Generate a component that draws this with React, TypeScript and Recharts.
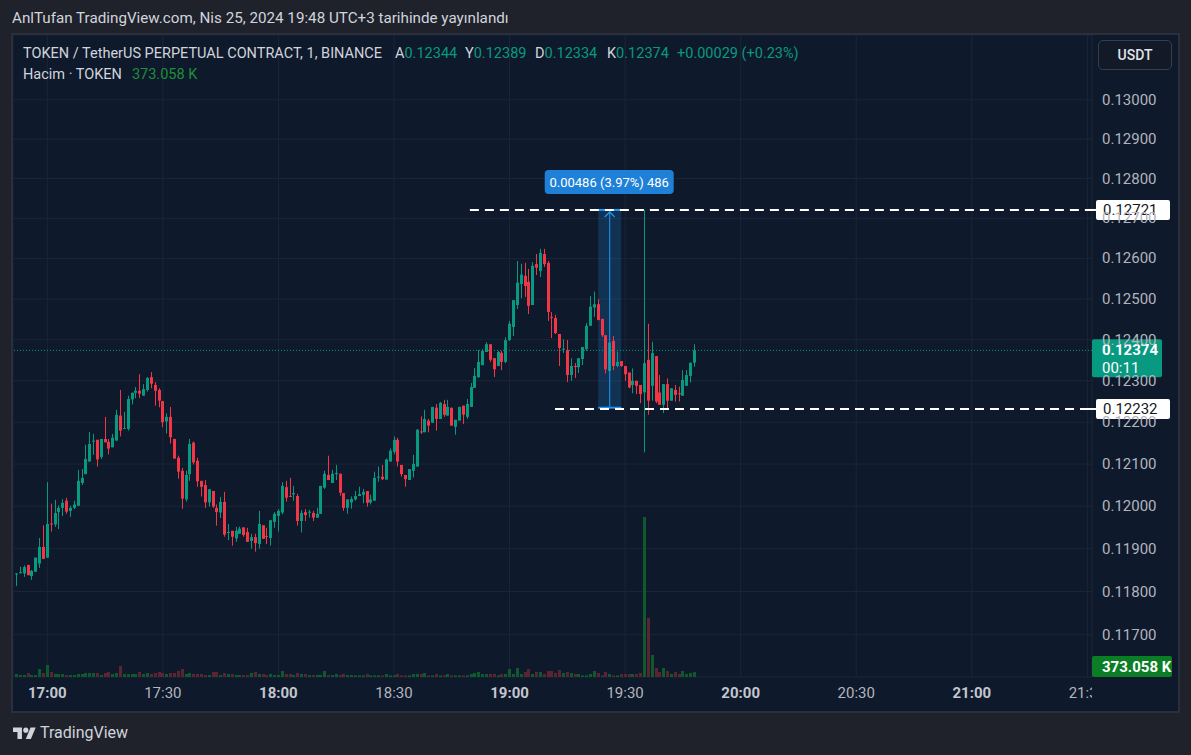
import React from 'react'
import { ComposedChart, Bar, XAxis, YAxis, CartesianGrid, ReferenceLine, ReferenceArea, ReferenceDot } from 'recharts'

// 1 minute candles, first one at 16:52
const firstMinute = 16 * 60 + 52

const opens = [
  0.11840, 0.11844, 0.11842, 0.11862, 0.11836, 0.11846, 0.11865, 0.11904, 0.11879, 0.11959,
  0.11957, 0.11986, 0.11996, 0.12013, 0.11989, 0.11996, 0.12001, 0.12055, 0.12076, 0.12106,
  0.12155, 0.12158, 0.12117, 0.12160, 0.12153, 0.12140, 0.12156, 0.12216, 0.12184, 0.12184,
  0.12255, 0.12271, 0.12276, 0.12264, 0.12278, 0.12309, 0.12290, 0.12278, 0.12251, 0.12202,
  0.12213, 0.12160, 0.12115, 0.12084, 0.12016, 0.12076, 0.12151, 0.12108, 0.12060, 0.12050,
  0.12009, 0.12036, 0.11996, 0.11985, 0.12010, 0.11938, 0.11942, 0.11924, 0.11935, 0.11950,
  0.11939, 0.11918, 0.11927, 0.11911, 0.11955, 0.11930, 0.11925, 0.11963, 0.11977, 0.11985,
  0.12045, 0.12024, 0.12028, 0.12024, 0.11965, 0.11986, 0.11986, 0.11984, 0.11973, 0.11982,
  0.12044, 0.12074, 0.12055, 0.12076, 0.12077, 0.12031, 0.11996, 0.12009, 0.12016, 0.12024,
  0.12027, 0.12036, 0.12009, 0.12013, 0.12069, 0.12070, 0.12063, 0.12106, 0.12129, 0.12158,
  0.12098, 0.12074, 0.12062, 0.12084, 0.12094, 0.12178, 0.12176, 0.12204, 0.12199, 0.12235,
  0.12208, 0.12244, 0.12216, 0.12235, 0.12189, 0.12204, 0.12240, 0.12213, 0.12237, 0.12283,
  0.12309, 0.12338, 0.12370, 0.12389, 0.12355, 0.12336, 0.12368, 0.12346, 0.12399, 0.12431,
  0.12485, 0.12537, 0.12557, 0.12542, 0.12485, 0.12586, 0.12569, 0.12611, 0.12589, 0.12456,
  0.12453, 0.12414, 0.12376, 0.12375, 0.12314, 0.12336, 0.12333, 0.12353, 0.12377, 0.12434,
  0.12479, 0.12487, 0.12451, 0.12411, 0.12324, 0.12397, 0.12336, 0.12348, 0.12336, 0.12320,
  0.12290, 0.12300, 0.12290, 0.12272, 0.12351, 0.12288, 0.12360, 0.12272, 0.12242, 0.12292,
  0.12252, 0.12278, 0.12270, 0.12264, 0.12288, 0.12312, 0.12344,
]

const highs = [
  0.11843, 0.11858, 0.11861, 0.11862, 0.11850, 0.11879, 0.11925, 0.11955, 0.12057, 0.12006,
  0.12015, 0.12002, 0.12017, 0.12020, 0.12001, 0.12013, 0.12086, 0.12088, 0.12146, 0.12177,
  0.12172, 0.12158, 0.12160, 0.12213, 0.12160, 0.12172, 0.12230, 0.12278, 0.12225, 0.12264,
  0.12272, 0.12285, 0.12316, 0.12292, 0.12309, 0.12321, 0.12297, 0.12282, 0.12251, 0.12221,
  0.12237, 0.12160, 0.12120, 0.12091, 0.12084, 0.12160, 0.12154, 0.12115, 0.12060, 0.12062,
  0.12040, 0.12036, 0.12004, 0.12022, 0.12034, 0.11958, 0.11942, 0.11951, 0.11952, 0.11950,
  0.11949, 0.11935, 0.11935, 0.11989, 0.11955, 0.11949, 0.11967, 0.11986, 0.11993, 0.12057,
  0.12060, 0.12067, 0.12048, 0.12029, 0.11991, 0.11993, 0.11991, 0.11989, 0.11996, 0.12048,
  0.12084, 0.12120, 0.12086, 0.12098, 0.12077, 0.12031, 0.12016, 0.12023, 0.12036, 0.12046,
  0.12041, 0.12036, 0.12027, 0.12082, 0.12094, 0.12098, 0.12113, 0.12137, 0.12166, 0.12163,
  0.12098, 0.12074, 0.12088, 0.12122, 0.12184, 0.12214, 0.12230, 0.12208, 0.12237, 0.12244,
  0.12249, 0.12254, 0.12254, 0.12235, 0.12206, 0.12237, 0.12240, 0.12256, 0.12295, 0.12331,
  0.12375, 0.12377, 0.12394, 0.12389, 0.12355, 0.12373, 0.12373, 0.12406, 0.12446, 0.12497,
  0.12594, 0.12587, 0.12589, 0.12574, 0.12591, 0.12611, 0.12624, 0.12624, 0.12594, 0.12468,
  0.12461, 0.12414, 0.12401, 0.12399, 0.12355, 0.12343, 0.12355, 0.12382, 0.12441, 0.12507,
  0.12518, 0.12499, 0.12451, 0.12411, 0.12393, 0.12409, 0.12371, 0.12348, 0.12336, 0.12320,
  0.12330, 0.12300, 0.12290, 0.12721, 0.12439, 0.12395, 0.12360, 0.12314, 0.12292, 0.12306,
  0.12282, 0.12290, 0.12286, 0.12326, 0.12326, 0.12344, 0.12389,
]

const lows = [
  0.11813, 0.11842, 0.11834, 0.11838, 0.11827, 0.11846, 0.11855, 0.11876, 0.11879, 0.11940,
  0.11951, 0.11946, 0.11977, 0.11982, 0.11975, 0.11993, 0.12001, 0.12050, 0.12076, 0.12106,
  0.12122, 0.12094, 0.12112, 0.12152, 0.12123, 0.12140, 0.12156, 0.12166, 0.12184, 0.12180,
  0.12243, 0.12258, 0.12258, 0.12264, 0.12274, 0.12282, 0.12240, 0.12236, 0.12188, 0.12173,
  0.12149, 0.12113, 0.12065, 0.11994, 0.12011, 0.12060, 0.12099, 0.12046, 0.12023, 0.11996,
  0.11999, 0.11996, 0.11954, 0.11972, 0.11928, 0.11920, 0.11907, 0.11916, 0.11935, 0.11928,
  0.11916, 0.11900, 0.11893, 0.11900, 0.11923, 0.11911, 0.11907, 0.11949, 0.11940, 0.11981,
  0.12011, 0.12022, 0.12013, 0.11954, 0.11938, 0.11965, 0.11973, 0.11965, 0.11973, 0.11982,
  0.12041, 0.12062, 0.12055, 0.12062, 0.12025, 0.11989, 0.11982, 0.11994, 0.12013, 0.12024,
  0.12007, 0.11999, 0.12004, 0.12013, 0.12058, 0.12062, 0.12063, 0.12106, 0.12123, 0.12094,
  0.12070, 0.12046, 0.12062, 0.12068, 0.12094, 0.12172, 0.12176, 0.12176, 0.12199, 0.12180,
  0.12208, 0.12213, 0.12216, 0.12192, 0.12170, 0.12204, 0.12196, 0.12208, 0.12237, 0.12283,
  0.12307, 0.12338, 0.12370, 0.12346, 0.12309, 0.12336, 0.12326, 0.12343, 0.12397, 0.12409,
  0.12475, 0.12502, 0.12505, 0.12463, 0.12485, 0.12559, 0.12554, 0.12579, 0.12446, 0.12404,
  0.12414, 0.12336, 0.12368, 0.12297, 0.12300, 0.12307, 0.12319, 0.12338, 0.12373, 0.12434,
  0.12456, 0.12448, 0.12407, 0.12318, 0.12324, 0.12326, 0.12333, 0.12334, 0.12300, 0.12282,
  0.12270, 0.12268, 0.12246, 0.12128, 0.12218, 0.12252, 0.12246, 0.12242, 0.12222, 0.12230,
  0.12252, 0.12250, 0.12250, 0.12264, 0.12288, 0.12296, 0.12334,
]

const closes = [
  0.11842, 0.11845, 0.11857, 0.11838, 0.11848, 0.11879, 0.11904, 0.11876, 0.11958, 0.11958,
  0.11984, 0.11996, 0.12008, 0.11987, 0.11996, 0.12004, 0.12060, 0.12067, 0.12112, 0.12148,
  0.12156, 0.12111, 0.12160, 0.12152, 0.12137, 0.12163, 0.12218, 0.12180, 0.12186, 0.12256,
  0.12271, 0.12276, 0.12269, 0.12280, 0.12307, 0.12293, 0.12276, 0.12252, 0.12200, 0.12213,
  0.12164, 0.12113, 0.12082, 0.12018, 0.12074, 0.12148, 0.12104, 0.12059, 0.12046, 0.12009,
  0.12040, 0.11999, 0.11986, 0.12010, 0.11933, 0.11939, 0.11928, 0.11942, 0.11947, 0.11932,
  0.11916, 0.11927, 0.11913, 0.11958, 0.11923, 0.11929, 0.11967, 0.11982, 0.11989, 0.12048,
  0.12020, 0.12023, 0.12031, 0.11965, 0.11984, 0.11979, 0.11987, 0.11973, 0.11982, 0.12048,
  0.12077, 0.12062, 0.12077, 0.12079, 0.12032, 0.11996, 0.12016, 0.12017, 0.12024, 0.12029,
  0.12034, 0.12008, 0.12016, 0.12067, 0.12070, 0.12064, 0.12111, 0.12132, 0.12158, 0.12106,
  0.12076, 0.12064, 0.12088, 0.12100, 0.12182, 0.12177, 0.12208, 0.12192, 0.12237, 0.12208,
  0.12247, 0.12218, 0.12237, 0.12192, 0.12206, 0.12237, 0.12218, 0.12244, 0.12285, 0.12312,
  0.12346, 0.12373, 0.12389, 0.12351, 0.12328, 0.12370, 0.12346, 0.12399, 0.12439, 0.12497,
  0.12540, 0.12560, 0.12532, 0.12483, 0.12582, 0.12577, 0.12614, 0.12586, 0.12468, 0.12455,
  0.12416, 0.12380, 0.12378, 0.12314, 0.12336, 0.12335, 0.12355, 0.12382, 0.12434, 0.12481,
  0.12487, 0.12448, 0.12411, 0.12328, 0.12393, 0.12336, 0.12346, 0.12336, 0.12316, 0.12284,
  0.12300, 0.12288, 0.12268, 0.12343, 0.12252, 0.12367, 0.12250, 0.12242, 0.12292, 0.12252,
  0.12282, 0.12266, 0.12269, 0.12302, 0.12314, 0.12344, 0.12374,
]

// volume in thousands of TOKEN
const volumes = [
  225, 150, 150, 300, 150, 150, 600, 300, 900, 375,
  225, 225, 225, 150, 150, 150, 225, 225, 300, 300,
  300, 300, 150, 300, 375, 225, 300, 825, 225, 225,
  225, 225, 375, 225, 300, 225, 300, 375, 300, 225,
  300, 300, 450, 600, 225, 300, 225, 225, 225, 150,
  150, 375, 375, 150, 300, 225, 225, 150, 150, 150,
  150, 300, 375, 225, 225, 150, 225, 150, 150, 450,
  225, 225, 150, 300, 225, 225, 150, 150, 150, 150,
  450, 150, 150, 225, 150, 225, 150, 150, 125, 125,
  125, 225, 125, 125, 125, 125, 225, 125, 125, 225,
  125, 125, 125, 225, 225, 225, 300, 125, 125, 225,
  125, 125, 225, 125, 125, 125, 125, 125, 225, 300,
  375, 225, 225, 225, 225, 125, 225, 225, 600, 225,
  675, 225, 375, 600, 225, 375, 375, 225, 450, 450,
  300, 525, 300, 375, 300, 225, 225, 125, 125, 225,
  450, 300, 125, 375, 225, 125, 125, 225, 225, 225,
  225, 225, 300, 12000, 4425, 1650, 675, 375, 675, 450,
  225, 375, 225, 450, 225, 300, 373.058,
]

const timeTicks = [1020, 1050, 1080, 1110, 1140, 1170, 1200, 1230, 1260, 1290]
const priceTicks = [0.117, 0.118, 0.119, 0.12, 0.121, 0.122, 0.123, 0.124, 0.125, 0.126, 0.127, 0.128, 0.129, 0.13]

const lastPrice = 0.12374
const lastVolume = 373.058
// horizontal lines drawn on the chart
const rangeHigh = 0.12721
const rangeLow = 0.12232
// price range measured by the ruler
const measureHigh = 0.12721
const measureLow = 0.12235

const UP = '#089981'
const DOWN = '#f23645'
const PANEL = '#0e192b'
const GRID = '#1b2637'

const W = 1165
const H = 676
const AXIS_W = 86
const AXIS_H = 34
const PLOT_W = W - AXIS_W
const PLOT_H = H - AXIS_H
const T_MIN = 1011.1
const T_MAX = 1291.2
const P_MIN = 0.11603
const P_MAX = 0.13167
const VOL_MAX = PLOT_H * 75

const data = opens.map((o, i) => ({
  t: firstMinute + i,
  open: o,
  high: highs[i],
  low: lows[i],
  close: closes[i],
  vol: volumes[i],
}))

const Candle = (props: any) => {
  const { x, y, width, height, payload } = props
  const { open, close, high, low } = payload
  const color = close >= open ? UP : DOWN
  const cx = Math.round(x + width / 2)
  const lh = Math.log(high)
  const ll = Math.log(low)
  const py = (p: number) => (lh === ll ? y : y + (height * (lh - Math.log(p))) / (lh - ll))
  const top = py(Math.max(open, close))
  const bot = py(Math.min(open, close))
  return (
    <g>
      <line x1={cx + 0.5} x2={cx + 0.5} y1={y} y2={y + height} stroke={color} strokeWidth={1} />
      <rect x={cx - 1} y={top} width={3} height={Math.max(bot - top, 1)} fill={color} />
    </g>
  )
}

const VolBar = (props: any) => {
  const { x, y, width, height, payload } = props
  const cx = Math.round(x + width / 2)
  const up = payload.close >= payload.open
  return <rect x={cx - 1} y={y} width={3} height={Math.max(height, 1)} fill={up ? '#0f5a2c' : '#5a2431'} />
}

const fmtTime = (m: number) => `${Math.floor(m / 60)}:${String(m % 60).padStart(2, '0')}`

const TimeTick = (props: any) => {
  const { x, payload } = props
  const hour = payload.value % 60 === 0
  return (
    <svg x={0} y={0} width={PLOT_W} height={H} overflow="hidden">
      <text
        x={x}
        y={PLOT_H + 21}
        textAnchor="middle"
        fontSize={15}
        fontWeight={hour ? 700 : 400}
        fill={hour ? '#c3c6ce' : '#b2b5be'}
      >
        {fmtTime(payload.value)}
      </text>
    </svg>
  )
}

const PriceTick = (props: any) => {
  const { y, payload } = props
  return (
    <text x={PLOT_W + 10} y={y + 5} fontSize={15} fill="#b2b5be">
      {payload.value.toFixed(5)}
    </text>
  )
}

const WhiteLabel = (props: any) => {
  const { cx, cy, value } = props
  return (
    <g>
      <line x1={cx - 4} x2={cx + 5} y1={cy} y2={cy} stroke="#ffffff" strokeWidth={2} />
      <rect x={cx + 4} y={cy - 10} width={74} height={20} rx={2} fill="#ffffff" />
      <text x={cx + 11} y={cy + 5} fontSize={15} fill="#131722">
        {value.toFixed(5)}
      </text>
    </g>
  )
}

const LastLabel = (props: any) => {
  const { cx, cy } = props
  return (
    <g>
      <rect x={cx} y={cy - 11} width={70} height={38} rx={2} fill={UP} />
      <text x={cx + 10} y={cy + 5} fontSize={15} fontWeight={700} fill="#ffffff">
        {lastPrice.toFixed(5)}
      </text>
      <text x={cx + 10} y={cy + 23} fontSize={15} fill="#ffffff">
        00:11
      </text>
    </g>
  )
}

const VolLabel = (props: any) => {
  const { cx, cy } = props
  return (
    <g>
      <rect x={cx} y={cy - 16} width={80} height={21} rx={2} fill="#0a7d25" />
      <text x={cx + 10} y={cy} fontSize={15} fontWeight={700} fill="#ffffff">
        {lastVolume.toFixed(3)} K
      </text>
    </g>
  )
}

const MeasureLabel = (props: any) => {
  const { cx, cy } = props
  const diff = measureHigh - measureLow
  const pct = (diff / measureLow) * 100
  return (
    <g>
      <path d={`M${cx - 5} ${cy + 7} L${cx} ${cy + 2} L${cx + 5} ${cy + 7}`} stroke="#2196f3" strokeWidth={1.2} fill="none" />
      <rect x={cx - 65} y={cy - 40} width={129} height={24} rx={4} fill="#1f80d8" />
      <text x={cx - 0.5} y={cy - 23} textAnchor="middle" fontSize={13} fill="#ffffff">
        {`${diff.toFixed(5)} (${pct.toFixed(2)}%) ${Math.round(diff * 100000)}`}
      </text>
    </g>
  )
}

const legendLabel = { color: '#d1d4dc' }
const legendValue = { color: UP }

export default function App() {
  return (
    <div
      style={{
        position: 'absolute',
        left: 0,
        top: 0,
        width: 1191,
        height: 755,
        background: '#1f222b',
        fontFamily: 'Roboto, "Noto Sans", sans-serif',
        overflow: 'hidden',
      }}
    >
      <div style={{ position: 'absolute', left: 12, top: 9, fontSize: 15.2, color: '#d1d4dc', whiteSpace: 'nowrap' }}>
        AnlTufan TradingView.com, Nis 25, 2024 19:48 UTC+3 tarihinde yayınlandı
      </div>

      <div
        style={{
          position: 'absolute',
          left: 11,
          top: 33,
          width: 1169,
          height: 680,
          background: PANEL,
          border: '2px solid #2b2f3b',
          boxSizing: 'border-box',
        }}
      />

      <div style={{ position: 'absolute', left: 13, top: 35 }}>
        <ComposedChart width={W} height={H} data={data} margin={{ top: 0, right: 0, bottom: 0, left: 0 }}>
          <CartesianGrid stroke={GRID} yAxisId="p" />
          <XAxis
            dataKey="t"
            type="number"
            domain={[T_MIN, T_MAX]}
            allowDataOverflow
            ticks={timeTicks}
            interval={0}
            height={AXIS_H}
            tickLine={false}
            axisLine={false}
            tick={<TimeTick />}
          />
          <XAxis xAxisId="v" dataKey="t" type="number" domain={[T_MIN, T_MAX]} allowDataOverflow hide />
          <YAxis
            yAxisId="p"
            orientation="right"
            scale="log"
            domain={[P_MIN, P_MAX]}
            allowDataOverflow
            ticks={priceTicks}
            interval={0}
            width={AXIS_W}
            tickLine={false}
            axisLine={false}
            tick={<PriceTick />}
          />
          <YAxis yAxisId="vol" domain={[0, VOL_MAX]} allowDataOverflow hide />

          <Bar xAxisId="v" yAxisId="vol" dataKey="vol" barSize={3} shape={<VolBar />} isAnimationActive={false} />

          <ReferenceArea
            yAxisId="p"
            x1={1163}
            x2={1169}
            y1={measureLow}
            y2={measureHigh}
            fill="#2196f3"
            fillOpacity={0.2}
            stroke="none"
          />
          <ReferenceLine yAxisId="p" segment={[{ x: 1163, y: measureLow }, { x: 1169, y: measureLow }]} stroke="#2196f3" strokeWidth={2} />
          <ReferenceLine yAxisId="p" segment={[{ x: 1163, y: measureHigh }, { x: 1169, y: measureHigh }]} stroke="#2196f3" strokeWidth={2} />
          <ReferenceLine yAxisId="p" segment={[{ x: 1166, y: measureLow }, { x: 1166, y: measureHigh }]} stroke="#2196f3" strokeWidth={1} />

          <ReferenceLine yAxisId="p" y={lastPrice} stroke={UP} strokeDasharray="1 2" strokeWidth={1} />

          <Bar yAxisId="p" dataKey={(d: any) => [d.low, d.high]} barSize={3} shape={<Candle />} isAnimationActive={false} />

          <ReferenceLine
            yAxisId="p"
            segment={[{ x: 1129.7, y: rangeHigh }, { x: T_MAX, y: rangeHigh }]}
            stroke="#ffffff"
            strokeWidth={2}
            strokeDasharray="9 6"
          />
          <ReferenceLine
            yAxisId="p"
            segment={[{ x: 1151.8, y: rangeLow }, { x: T_MAX, y: rangeLow }]}
            stroke="#ffffff"
            strokeWidth={2}
            strokeDasharray="9 6"
          />

          <ReferenceDot yAxisId="p" x={1166} y={measureHigh} ifOverflow="visible" shape={<MeasureLabel />} />
          <ReferenceDot yAxisId="p" x={T_MAX} y={rangeHigh} ifOverflow="visible" shape={<WhiteLabel value={rangeHigh} />} />
          <ReferenceDot yAxisId="p" x={T_MAX} y={rangeLow} ifOverflow="visible" shape={<WhiteLabel value={rangeLow} />} />
          <ReferenceDot yAxisId="p" x={T_MAX} y={lastPrice} ifOverflow="visible" shape={<LastLabel />} />
          <ReferenceDot yAxisId="vol" xAxisId="v" x={T_MAX} y={lastVolume} ifOverflow="visible" shape={<VolLabel />} />
        </ComposedChart>
      </div>

      <div style={{ position: 'absolute', left: 23, top: 45, fontSize: 14.5, whiteSpace: 'nowrap', ...legendLabel }}>
        TOKEN / TetherUS PERPETUAL CONTRACT, 1, BINANCE
      </div>
      {[
        ['A', opens[opens.length - 1], 395],
        ['Y', highs[highs.length - 1], 465],
        ['D', lows[lows.length - 1], 535],
        ['K', lastPrice, 607],
      ].map(([k, v, left]) => (
        <div key={k as string} style={{ position: 'absolute', left: left as number, top: 45, fontSize: 14.5, whiteSpace: 'nowrap' }}>
          <span style={legendLabel}>{k}</span>
          <span style={legendValue}>{(v as number).toFixed(5)}</span>
        </div>
      ))}
      <div style={{ position: 'absolute', left: 677, top: 45, fontSize: 14.5, whiteSpace: 'nowrap', ...legendValue }}>
        +0.00029 (+0.23%)
      </div>
      <div style={{ position: 'absolute', left: 23, top: 66, fontSize: 14.5, whiteSpace: 'nowrap' }}>
        <span style={legendLabel}>Hacim · TOKEN</span>
        <span style={{ color: '#1f8f3a', marginLeft: 10 }}>{lastVolume.toFixed(3)} K</span>
      </div>

      <div
        style={{
          position: 'absolute',
          left: 1098,
          top: 40,
          width: 74,
          height: 30,
          boxSizing: 'border-box',
          border: '1px solid #3a3e4a',
          borderRadius: 5,
          background: '#121a27',
          color: '#e0e3eb',
          fontSize: 14,
          fontWeight: 500,
          display: 'flex',
          alignItems: 'center',
          justifyContent: 'center',
        }}
      >
        USDT
      </div>

      <svg style={{ position: 'absolute', left: 13, top: 725 }} width={23} height={18} viewBox="0 0 36 28">
        <path d="M14 22H7V11H0V4h14v18z" fill="#d1d4dc" />
        <circle cx={20} cy={8} r={4} fill="#d1d4dc" />
        <path d="M28 22h-8l7.5-18h8L28 22z" fill="#d1d4dc" />
      </svg>
      <div style={{ position: 'absolute', left: 40, top: 723, fontSize: 16, color: '#d1d4dc' }}>TradingView</div>
    </div>
  )
}
